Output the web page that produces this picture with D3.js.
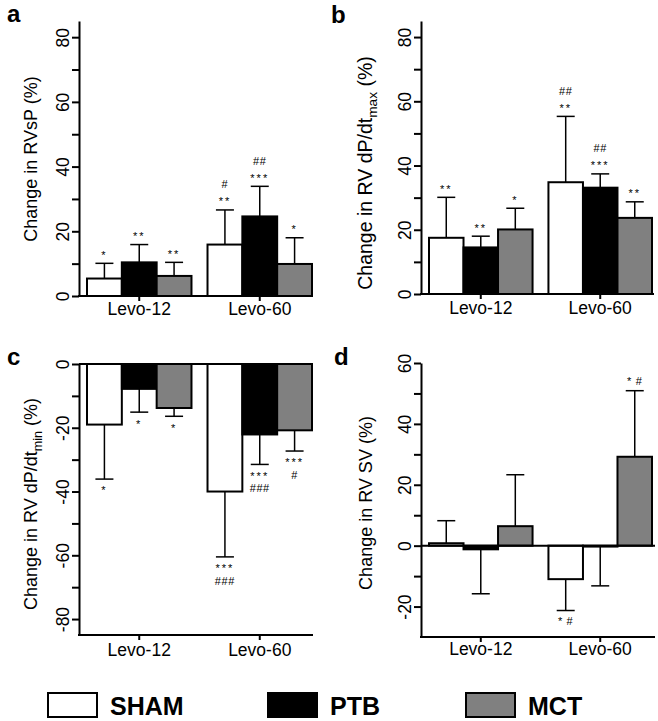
<!DOCTYPE html>
<html><head><meta charset="utf-8">
<script src="https://cdn.jsdelivr.net/npm/d3@7"></script>
<style>
body{margin:0;background:#fff}
svg{display:block}
text{font-family:"Liberation Sans",Arial,Helvetica,sans-serif;fill:#000}
</style>
</head><body>
<svg id="chart" width="658" height="721"></svg>
<script>
// ---------- data ----------
const groups = ["Levo-12", "Levo-60"];
const seriesNames = ["SHAM", "PTB", "MCT"];
const seriesColors = ["#ffffff", "#000000", "#808080"];

// panel a: Change in RVsP (%)
const aSham = [5.4, 15.9], aShamErr = [4.7, 10.7];
const aPtb  = [10.4, 24.6], aPtbErr = [5.5, 9.3];
const aMct  = [6.2, 9.9],  aMctErr = [4.2, 8.1];
const aSig = [[["*"], ["**", "#"]], [["**"], ["***", "##"]], [["**"], ["*"]]];

// panel b: Change in RV dP/dt max (%)
const bSham = [17.5, 34.8], bShamErr = [12.6, 20.5];
const bPtb  = [14.5, 33.1], bPtbErr = [3.5, 4.3];
const bMct  = [20.1, 23.7], bMctErr = [6.6, 5.0];
const bSig = [[["**"], ["**", "##"]], [["**"], ["***", "##"]], [["*"], ["**"]]];

// panel c: Change in RV dP/dt min (%)
const cSham = [-19.0, -40.0], cShamErr = [17.1, 20.5];
const cPtb  = [-7.8, -22.1],  cPtbErr = [7.3, 9.4];
const cMct  = [-13.8, -20.8], cMctErr = [2.6, 6.5];
const cSig = [[["*"], ["***", "###"]], [["*"], ["***", "###"]], [["*"], ["***", "#"]]];

// panel d: Change in RV SV (%)
const dSham = [0.8, -11.0], dShamErr = [7.4, 10.3];
const dPtb  = [-1.2, -0.3], dPtbErr = [14.6, 12.9];
const dMct  = [6.4, 29.2],  dMctErr = [16.9, 21.7];
const dSig = [[[], ["* #"]], [[], []], [[], ["* #"]]];

// tick values
const ticksAB = [0, 10, 20, 30, 40, 50, 60, 70, 80];
const ticksC = [0, -10, -20, -30, -40, -50, -60, -70, -80];
const ticksD = [60, 50, 40, 30, 20, 10, 0, -10, -20];

// ---------- layout ----------
const svg = d3.select("#chart");

const panels = [
  {letter: "a", lx: 7, ly: 22, x0: 79, xEnd: 313, band: [87, 312], yr: [296, 21], dom: [0, 85], ticks: ticksAB,
   vals: [aSham, aPtb, aMct], errs: [aShamErr, aPtbErr, aMctErr], sig: aSig,
   title: ["Change in RVsP (%)"], tx: 37, ty: 159, tsize: 18, xlab: 315},
  {letter: "b", lx: 331, ly: 23, x0: 421, xEnd: 654, band: [429, 652], yr: [294, 21], dom: [0, 85], ticks: ticksAB,
   vals: [bSham, bPtb, bMct], errs: [bShamErr, bPtbErr, bMctErr], sig: bSig,
   title: ["Change in RV dP/dt", "max", " (%)"], tx: 372, ty: 173, tsize: 19.5, xlab: 314},
  {letter: "c", lx: 7, ly: 365, x0: 79, xEnd: 313, band: [87, 312], yr: [635, 364], dom: [-85, 0], ticks: ticksC,
   vals: [cSham, cPtb, cMct], errs: [cShamErr, cPtbErr, cMctErr], sig: cSig,
   title: ["Change in RV dP/dt", "min", " (%)"], tx: 37, ty: 504, tsize: 18, xlab: 656},
  {letter: "d", lx: 334, ly: 365, x0: 421, xEnd: 655, band: [429, 652], yr: [637, 363], dom: [-30, 60], ticks: ticksD,
   vals: [dSham, dPtb, dMct], errs: [dShamErr, dPtbErr, dMctErr], sig: dSig,
   title: ["Change in RV SV (%)"], tx: 372, ty: 503, tsize: 18, xlab: 655}
];

panels.forEach(p => {
  const g = svg.append("g");
  const y = d3.scaleLinear().domain(p.dom).range(p.yr);
  const x = d3.scaleBand().domain(groups).range(p.band).paddingInner(0.133).paddingOuter(0);
  const xs = d3.scaleBand().domain(seriesNames).range([0, x.bandwidth()]).padding(0);

  // bars
  seriesNames.forEach((s, si) => {
    groups.forEach((gr, gi) => {
      const v = p.vals[si][gi];
      g.append("rect")
        .attr("x", x(gr) + xs(s))
        .attr("width", xs.bandwidth())
        .attr("y", Math.min(y(v), y(0)))
        .attr("height", Math.abs(y(v) - y(0)))
        .attr("fill", seriesColors[si])
        .attr("stroke", "#000")
        .attr("stroke-width", 2);
    });
  });

  // error bars + significance marks
  const FS = 11;
  seriesNames.forEach((s, si) => {
    groups.forEach((gr, gi) => {
      const v = p.vals[si][gi];
      const dir = v >= 0 ? 1 : -1;
      const e = v + dir * p.errs[si][gi];
      const cx = x(gr) + xs(s) + xs.bandwidth() / 2;
      g.append("line").attr("x1", cx).attr("x2", cx).attr("y1", y(v)).attr("y2", y(e))
        .attr("stroke", "#000").attr("stroke-width", 1.5);
      g.append("line").attr("x1", cx - 9).attr("x2", cx + 9).attr("y1", y(e)).attr("y2", y(e))
        .attr("stroke", "#000").attr("stroke-width", 1.5);
      const lines = p.sig[si][gi];
      let base = null;
      lines.forEach((t, li) => {
        const isStar = t.indexOf("*") >= 0 && t.indexOf("#") < 0;
        const mixed = t.indexOf("*") >= 0 && t.indexOf("#") >= 0;
        const off = isStar ? 6.4 : (mixed ? 5 : 3.9);
        if (li === 0) {
          base = dir > 0 ? y(e) - 11 + off : y(e) + 9 + off;
        } else {
          base = dir > 0 ? base - 17 : base + 12.6;
        }
        g.append("text").attr("x", cx).attr("y", base)
          .attr("text-anchor", "middle")
          .attr("font-size", FS)
          .attr("letter-spacing", isStar ? 2 : 0.6)
          .text(t);
      });
    });
  });

  // zero line for panels with negative range
  if (p.dom[0] < 0) {
    g.append("line").attr("x1", p.x0).attr("x2", p.xEnd).attr("y1", y(0)).attr("y2", y(0))
      .attr("stroke", "#000").attr("stroke-width", 2);
  }

  // y axis
  const ya = g.append("g").attr("transform", `translate(${p.x0},0)`)
    .call(d3.axisLeft(y).tickValues(p.ticks).tickSize(7).tickSizeOuter(0)
      .tickFormat(d => d % 20 === 0 ? String(d) : ""));
  ya.select(".domain").attr("stroke-width", 2);
  ya.selectAll(".tick line").attr("stroke-width", 2);
  ya.selectAll(".tick text")
    .attr("x", null).attr("dy", null)
    .attr("transform", "translate(-10,0) rotate(-90)")
    .attr("text-anchor", "middle")
    .attr("font-size", 17.5)
    .attr("font-family", null);

  // x axis
  const yb = y(p.dom[0]);
  g.append("line").attr("x1", p.x0 - 1).attr("x2", p.xEnd).attr("y1", yb).attr("y2", yb)
    .attr("stroke", "#000").attr("stroke-width", 2);
  const xa = g.append("g").attr("transform", `translate(0,${yb})`)
    .call(d3.axisBottom(x).tickSize(5).tickSizeOuter(0));
  xa.select(".domain").remove();
  xa.selectAll(".tick line").attr("stroke-width", 2);
  xa.selectAll(".tick text").attr("y", null).attr("dy", null)
    .attr("transform", `translate(0,${p.xlab - yb})`)
    .attr("font-size", 17.5).attr("font-family", null);

  // axis title
  const t = g.append("text")
    .attr("transform", `translate(${p.tx},${p.ty}) rotate(-90)`)
    .attr("text-anchor", "middle")
    .attr("font-size", p.tsize);
  if (p.title.length === 1) {
    t.text(p.title[0]);
  } else {
    t.append("tspan").text(p.title[0]);
    t.append("tspan").attr("dy", p.tsize * 0.28).attr("font-size", p.tsize * 0.7).text(p.title[1]);
    t.append("tspan").attr("dy", -p.tsize * 0.28).text(p.title[2]);
  }

  // panel letter
  g.append("text").attr("x", p.lx).attr("y", p.ly)
    .attr("font-size", 24).attr("font-weight", "bold").text(p.letter);
});

// ---------- legend ----------
const legendX = [48, 268, 466];
const lg = svg.append("g");
seriesNames.forEach((s, i) => {
  lg.append("rect").attr("x", legendX[i]).attr("y", 693).attr("width", 49).attr("height", 24)
    .attr("fill", seriesColors[i]).attr("stroke", "#000").attr("stroke-width", 2);
  lg.append("text").attr("x", legendX[i] + 62).attr("y", 715)
    .attr("font-size", 25).attr("font-weight", "bold").text(s);
});
</script>
</body></html>
